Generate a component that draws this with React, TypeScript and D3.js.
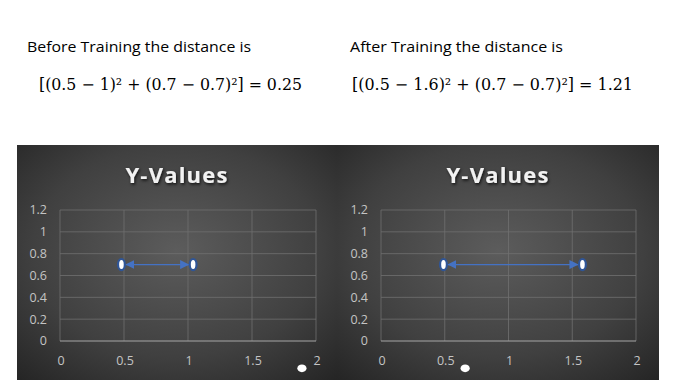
import React from "react";
import * as d3 from "d3";

const xTicks = [0, 0.5, 1, 1.5, 2];
const yTicks = [0, 0.2, 0.4, 0.6, 0.8, 1, 1.2];
const yTickLabels = ["0", "0.2", "0.4", "0.6", "0.8", "1", "1.2"];
const beforeX = [0.48, 1.04];
const beforeY = [0.7, 0.7];
const afterX = [0.49, 1.58];
const afterY = [0.7, 0.7];
const strayBefore = [1.89, -0.25];
const strayAfter = [0.66, -0.25];
const chartTitle = "Y-Values";
const beforeCaption = "Before Training the distance is";
const afterCaption = "After Training the distance is";
const beforeFormula = "[(0.5 − 1)² + (0.7 − 0.7)²] = 0.25";
const afterFormula = "[(0.5 − 1.6)² + (0.7 − 0.7)²] = 1.21";

type PanelProps = {
  id: string;
  left: number;
  right: number;
  plotLeft: number;
  plotRight: number;
  xs: number[];
  ys: number[];
  stray: number[];
};

const TOP = 145;
const BOTTOM = 380;
const PLOT_TOP = 210;
const PLOT_BOTTOM = 341;
const BLUE = "#4472C4";

function Panel({ id, left, right, plotLeft, plotRight, xs, ys, stray }: PanelProps) {
  const x = d3.scaleLinear().domain([0, 2]).range([plotLeft, plotRight]);
  const y = d3.scaleLinear().domain([0, 1.2]).range([PLOT_BOTTOM, PLOT_TOP]);
  const cx = (left + right) / 2;
  const x1 = x(xs[0]);
  const x2 = x(xs[1]);
  const yy = y(ys[0]);
  return (
    <g>
      <defs>
        <radialGradient id={`bg-${id}`} cx="50%" cy="45%" r="75%">
          <stop offset="0%" stopColor="#5c5c5c" />
          <stop offset="60%" stopColor="#404040" />
          <stop offset="100%" stopColor="#242424" />
        </radialGradient>
        <marker id={`ah-${id}`} viewBox="0 0 10 10" refX="10" refY="5" markerWidth="9" markerHeight="9" markerUnits="userSpaceOnUse" orient="auto-start-reverse">
          <path d="M0,0 L10,5 L0,10 z" fill={BLUE} />
        </marker>
        <filter id={`sh-${id}`} x="-20%" y="-40%" width="140%" height="180%">
          <feDropShadow dx="1" dy="1.5" stdDeviation="1.5" floodColor="#000" floodOpacity="0.8" />
        </filter>
      </defs>
      <rect x={left} y={TOP} width={right - left} height={BOTTOM - TOP} fill={`url(#bg-${id})`} />
      <text x={cx} y={183} textAnchor="middle" fill="#f2f2f2" fontFamily="'Open Sans', sans-serif" fontWeight="bold" fontSize={22} filter={`url(#sh-${id})`} letterSpacing="1.2">
        {chartTitle}
      </text>
      {yTicks.map((t) =>
        t === 0 ? null : (
          <line key={`gy${t}`} x1={plotLeft} x2={plotRight} y1={y(t)} y2={y(t)} stroke="#707070" strokeWidth={0.8} />
        )
      )}
      {xTicks.map((t) => (
        <line key={`gx${t}`} x1={x(t)} x2={x(t)} y1={PLOT_TOP} y2={PLOT_BOTTOM} stroke="#707070" strokeWidth={0.8} />
      ))}
      <line x1={plotLeft} x2={plotRight} y1={y(0)} y2={y(0)} stroke="#a6a6a6" strokeWidth={1} />
      {yTicks.map((t, i) => (
        <text key={`ly${t}`} x={plotLeft - 13} y={y(t)} dy="0.35em" textAnchor="end" fill="#c4c4c4" fontFamily="'Open Sans', sans-serif" fontSize={12.5}>
          {yTickLabels[i]}
        </text>
      ))}
      {xTicks.map((t) => (
        <text key={`lx${t}`} x={x(t) + 1} y={361} dy="0.35em" textAnchor="middle" fill="#c4c4c4" fontFamily="'Open Sans', sans-serif" fontSize={12.5}>
          {String(t)}
        </text>
      ))}
      <line x1={x1 + 4} x2={x2 - 4} y1={yy} y2={yy} stroke={BLUE} strokeWidth={1.3} markerStart={`url(#ah-${id})`} markerEnd={`url(#ah-${id})`} />
      {xs.map((v, i) => (
        <ellipse key={`p${i}`} cx={x(v)} cy={y(ys[i])} rx={3.4} ry={5.6} fill="#ffffff" stroke="#2f5597" strokeWidth={2.2} />
      ))}
      <ellipse cx={x(stray[0])} cy={y(stray[1])} rx={4.6} ry={3.9} fill="#ffffff" />
    </g>
  );
}

export default function App() {
  return (
    <svg width={682} height={392} style={{ position: "absolute", left: 0, top: 0, background: "#fff" }}>
      <rect x={0} y={0} width={682} height={392} fill="#ffffff" />
      <text x={27} y={52} fontFamily="'Open Sans', sans-serif" fontSize={14.5} fill="#000" textLength={224} lengthAdjust="spacingAndGlyphs">
        {beforeCaption}
      </text>
      <text x={39} y={90} fontFamily="'DejaVu Serif', serif" fontSize={16} fill="#000" textLength={263} lengthAdjust="spacingAndGlyphs">
        {beforeFormula}
      </text>
      <text x={350} y={52} fontFamily="'Open Sans', sans-serif" fontSize={14.5} fill="#000" textLength={213} lengthAdjust="spacingAndGlyphs">
        {afterCaption}
      </text>
      <text x={352} y={90} fontFamily="'DejaVu Serif', serif" fontSize={16} fill="#000" textLength={281} lengthAdjust="spacingAndGlyphs">
        {afterFormula}
      </text>
      <Panel id="a" left={17} right={337} plotLeft={60} plotRight={316} xs={beforeX} ys={beforeY} stray={strayBefore} />
      <Panel id="b" left={337} right={659} plotLeft={381} plotRight={636} xs={afterX} ys={afterY} stray={strayAfter} />
    </svg>
  );
}
